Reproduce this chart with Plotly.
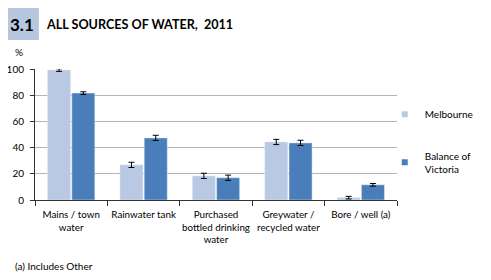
import plotly.graph_objects as go

# data
categories = ["Mains / town<br>water", "Rainwater tank", "Purchased<br>bottled drinking<br>water",
              "Greywater /<br>recycled water", "Bore / well (a)"]
melbourne = [99.2, 26.8, 18.4, 44.3, 1.8]
melbourne_err = [1.0, 2.0, 2.0, 2.0, 1.0]
balance = [81.6, 47.4, 17.0, 43.6, 11.6]
balance_err = [1.0, 2.0, 2.0, 2.0, 1.0]
series_names = ["Melbourne", "Balance of<br>Victoria"]

c_light = "#B9C9E3"
c_dark = "#4A7EBA"
font0 = "Lato, Carlito, Calibri, sans-serif"

fig = go.Figure()
fig.add_trace(go.Bar(x=categories, y=melbourne, marker_color=c_light, showlegend=False,
                     error_y=dict(type="data", array=melbourne_err, color="black", thickness=1, width=3)))
fig.add_trace(go.Bar(x=categories, y=balance, marker_color=c_dark, showlegend=False,
                     error_y=dict(type="data", array=balance_err, color="black", thickness=1, width=3)))
# legend entries with small square swatches
for nm, col in zip(series_names, [c_light, c_dark]):
    fig.add_trace(go.Scatter(x=[None], y=[None], mode="markers", name=nm, legendgroup=nm,
                             marker=dict(symbol="square", size=6, color=col)))

# page body has an 8px margin, so the figure is 8px smaller and shifted
fig.update_layout(
    width=483, height=272,
    margin=dict(l=27, r=84, t=61, b=80),
    paper_bgcolor="white", plot_bgcolor="white",
    font=dict(family=font0, size=10, color="black"),
    barmode="group", bargap=0.33, bargroupgap=0.05,
    legend=dict(x=456/372, y=0.765, xanchor="right", yanchor="top", xref="paper",
                font=dict(size=10), tracegroupgap=24, traceorder="grouped",
                itemwidth=30, bgcolor="rgba(0,0,0,0)", borderwidth=0),
)
fig.update_xaxes(showline=True, linecolor="#333333", linewidth=1, ticks="outside",
                 tickson="boundaries", ticklen=5, tickcolor="#333333", tickangle=0,
                 ticklabelstandoff=5, automargin=False, tickfont=dict(size=9.8), showgrid=False)
fig.update_yaxes(range=[0, 100], dtick=20, showline=True, linecolor="#333333", linewidth=1,
                 ticks="outside", ticklen=4, tickcolor="#333333", showgrid=True, automargin=False,
                 ticklabelstandoff=4, gridcolor="#B4B4B4", gridwidth=1, zeroline=False,
                 tickfont=dict(size=10))

fig.add_shape(type="rect", xref="paper", yref="paper", x0=-30/372, x1=4/372,
              y0=1 + 29/131, y1=1 + 62/131, fillcolor="#B8C7E0", line_width=0, layer="below")
fig.add_annotation(text="<b>3.1</b>", xref="paper", yref="paper", x=-13/372, y=1 + 45/131,
                   showarrow=False, font=dict(size=17, family=font0), xanchor="center", yanchor="middle")
fig.add_annotation(text="<b>ALL SOURCES OF WATER,  2011</b>", xref="paper", yref="paper",
                   x=9/372, y=1 + 45/131, showarrow=False, font=dict(size=12.6, family=font0),
                   xanchor="left", yanchor="middle")
fig.add_annotation(text="%", xref="paper", yref="paper", x=-16/372, y=1 + 17/131,
                   showarrow=False, font=dict(size=10), xanchor="center", yanchor="middle")
fig.add_annotation(text="(a) Includes Other", xref="paper", yref="paper", x=-23/372, y=-66/131,
                   showarrow=False, font=dict(size=10), xanchor="left", yanchor="middle")

fig.write_html("out.html")
